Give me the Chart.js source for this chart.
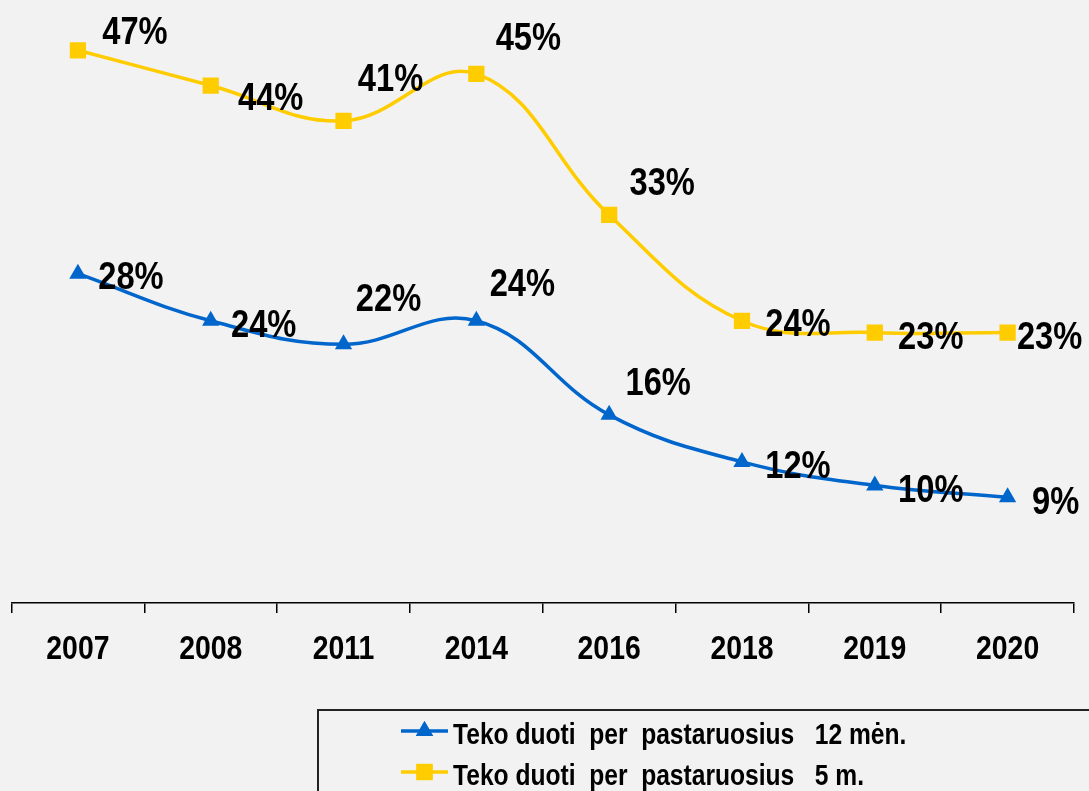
<!DOCTYPE html>
<html>
<head>
<meta charset="utf-8">
<script src="https://cdn.jsdelivr.net/npm/chart.js@4/dist/chart.umd.min.js"></script>
<style>
  html, body { margin:0; padding:0; background:#f2f2f2; }
  #wrap { width:1089px; height:791px; position:relative; }
</style>
</head>
<body>
<div id="wrap"><canvas id="chart"></canvas></div>
<script>
const YEARS = ['2007','2008','2011','2014','2016','2018','2019','2020'];
const SERIES_12 = [28, 24, 22, 24, 16, 12, 10, 9];
const SERIES_5 = [47, 44, 41, 45, 33, 24, 23, 23];
const NAME_12 = 'Teko duoti  per  pastaruosius   12 mėn.';
const NAME_5 = 'Teko duoti  per  pastaruosius   5 m.';

const FONT = '"Liberation Sans", Arial, sans-serif';
const SQUEEZE = 0.86;   // text is horizontally condensed in the original
const BLUE = '#0066cc';
const YELLOW = '#ffcc00';

/* label offsets from the point, px (centre of the text) */
const OFF_5  = [[57,-20],[60,11],[47,-43],[52,-37],[53,-33],[56,2],[56,3],[42,3]];
const OFF_12 = [[53,2],[53,3],[45,-47],[46,-38],[49,-33],[56,3],[56,3],[48,3]];

function squeezedText(ctx, txt, x, y, align, sq) {
  ctx.save();
  ctx.translate(x, y);
  ctx.scale(sq || SQUEEZE, 1);
  ctx.textAlign = align;
  ctx.fillText(txt, 0, 0);
  ctx.restore();
}

const valueLabels = {
  id:'valueLabels',
  afterDatasetsDraw(chart) {
    const ctx = chart.ctx;
    ctx.save();
    ctx.font = 'bold 38px ' + FONT;
    ctx.fillStyle = '#000';
    ctx.textBaseline = 'alphabetic';
    chart.data.datasets.forEach((ds, i) => {
      const meta = chart.getDatasetMeta(i);
      meta.data.forEach((pt, j) => {
        const o = ds.labelOffsets[j];
        squeezedText(ctx, ds.data[j] + '%', pt.x + o[0], pt.y + o[1] + 13.5, 'center');
      });
    });
    ctx.restore();
  }
};

const yearLabels = {
  id:'yearLabels',
  afterDraw(chart) {
    const ctx = chart.ctx;
    const sx = chart.scales.x;
    ctx.save();
    ctx.font = 'bold 33px ' + FONT;
    ctx.fillStyle = '#000';
    ctx.textBaseline = 'alphabetic';
    chart.data.labels.forEach((lab, i) => {
      squeezedText(ctx, lab, sx.getPixelForTick(i), 659, 'center');
    });
    ctx.restore();
  }
};

const boxLegend = {
  id:'boxLegend',
  afterDraw(chart) {
    const ctx = chart.ctx;
    ctx.save();
    ctx.lineWidth = 2;
    ctx.strokeStyle = '#222';
    ctx.strokeRect(318, 710, 900, 200);
    chart.data.datasets.forEach((ds, i) => {
      const y = 731 + i * 41;
      ctx.strokeStyle = ds.borderColor;
      ctx.lineWidth = 3.5;
      ctx.beginPath(); ctx.moveTo(401, y); ctx.lineTo(448, y); ctx.stroke();
      ctx.fillStyle = ds.backgroundColor;
      Chart.helpers.drawPoint(ctx, {pointStyle:ds.pointStyle, radius:ds.pointRadius, rotation:0, borderWidth:0}, 424.5, y);
      ctx.fill();
      ctx.fillStyle = '#000';
      ctx.font = 'bold 30px ' + FONT;
      ctx.textBaseline = 'alphabetic';
      squeezedText(ctx, ds.label, 453, 744 + i * 41, 'left', 0.82);
    });
    ctx.restore();
  }
};

new Chart(document.getElementById('chart'), {
  type:'line',
  data:{
    labels:YEARS,
    datasets:[
      { label:NAME_12, data:SERIES_12, labelOffsets:OFF_12,
        borderColor:BLUE, backgroundColor:BLUE, borderWidth:3.5,
        pointStyle:'triangle', pointRadius:10, pointBorderWidth:0, tension:0.4 },
      { label:NAME_5, data:SERIES_5, labelOffsets:OFF_5,
        borderColor:YELLOW, backgroundColor:YELLOW, borderWidth:3.5,
        pointStyle:'rect', pointRadius:11.5, pointBorderWidth:0, tension:0.4 }
    ]
  },
  options:{
    responsive:true,
    maintainAspectRatio:false,
    animation:false,
    layout:{ padding:{ left:10, right:15, top:15, bottom:178 } },
    plugins:{ legend:{display:false}, tooltip:{enabled:false} },
    scales:{
      x:{
        offset:true,
        border:{ display:true, color:'#000', width:1.5 },
        grid:{ drawOnChartArea:false, drawTicks:true, tickLength:10, color:'#000', lineWidth:1.5, offset:true },
        ticks:{ display:false }
      },
      y:{ display:false, min:0, max:50 }
    }
  },
  plugins:[valueLabels, yearLabels, boxLegend]
});
</script>
</body>
</html>
